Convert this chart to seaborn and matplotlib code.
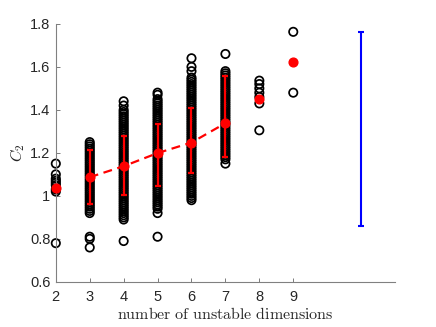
import numpy as np
import pandas as pd
import matplotlib
matplotlib.use("Agg")
import matplotlib.pyplot as plt
import seaborn as sns

## data: C2 values per number of unstable dimensions
c2_d2 = [0.78, 1.02, 1.03, 1.05, 1.06, 1.07, 1.08, 1.10, 1.15]
c2_d3 = [0.76, 0.80, 0.81, 0.92, 0.93, 0.94, 0.95, 0.96, 0.97, 0.98, 0.99,
         1.00, 1.01, 1.02, 1.03, 1.04, 1.05, 1.06, 1.07, 1.08, 1.09, 1.10,
         1.11, 1.12, 1.13, 1.14, 1.15, 1.16, 1.17, 1.18, 1.19, 1.20, 1.21,
         1.22, 1.23, 1.24, 1.25]
c2_d4 = [0.79, 0.89, 0.90, 0.91, 0.92, 0.93, 0.94, 0.95, 0.96, 0.97, 0.98,
         0.99, 1.00, 1.01, 1.02, 1.03, 1.04, 1.05, 1.06, 1.07, 1.08, 1.09,
         1.10, 1.11, 1.12, 1.13, 1.14, 1.15, 1.16, 1.17, 1.18, 1.19, 1.20,
         1.21, 1.22, 1.23, 1.24, 1.25, 1.26, 1.27, 1.28, 1.29, 1.30, 1.31,
         1.32, 1.33, 1.34, 1.35, 1.36, 1.37, 1.38, 1.39, 1.40, 1.42, 1.44]
c2_d5 = [0.81, 0.92, 0.94, 0.95, 0.96, 0.97, 0.98, 0.99, 1.00, 1.01, 1.02,
         1.03, 1.04, 1.05, 1.06, 1.07, 1.08, 1.09, 1.10, 1.11, 1.12, 1.13,
         1.14, 1.15, 1.16, 1.17, 1.18, 1.19, 1.20, 1.21, 1.22, 1.23, 1.24,
         1.25, 1.26, 1.27, 1.28, 1.29, 1.30, 1.31, 1.32, 1.33, 1.34, 1.35,
         1.36, 1.37, 1.38, 1.39, 1.40, 1.41, 1.42, 1.43, 1.44, 1.45, 1.47,
         1.48]
c2_d6 = [0.98, 0.99, 1.00, 1.01, 1.02, 1.03, 1.04, 1.05, 1.06, 1.07, 1.08,
         1.09, 1.10, 1.11, 1.12, 1.13, 1.14, 1.15, 1.16, 1.17, 1.18, 1.19,
         1.20, 1.21, 1.22, 1.23, 1.24, 1.25, 1.26, 1.27, 1.28, 1.29, 1.30,
         1.31, 1.32, 1.33, 1.34, 1.35, 1.36, 1.37, 1.38, 1.39, 1.40, 1.41,
         1.42, 1.43, 1.44, 1.45, 1.46, 1.47, 1.48, 1.49, 1.50, 1.51, 1.52,
         1.53, 1.54, 1.55, 1.58, 1.60, 1.64]
c2_d7 = [1.15, 1.17, 1.18, 1.19, 1.20, 1.21, 1.22, 1.23, 1.24, 1.25, 1.26,
         1.27, 1.28, 1.29, 1.30, 1.31, 1.32, 1.33, 1.34, 1.35, 1.36, 1.37,
         1.38, 1.39, 1.40, 1.41, 1.42, 1.43, 1.44, 1.45, 1.46, 1.47, 1.48,
         1.49, 1.50, 1.51, 1.52, 1.53, 1.54, 1.55, 1.56, 1.57, 1.58, 1.66]
c2_d8 = [1.305, 1.43, 1.46, 1.48, 1.50, 1.52, 1.536]
c2_d9 = [1.48, 1.763]

dims = [2, 3, 4, 5, 6, 7, 8, 9]
c2_all = [c2_d2, c2_d3, c2_d4, c2_d5, c2_d6, c2_d7, c2_d8, c2_d9]

# means (red dots) for every dimension
mean_c2 = [1.036, 1.087, 1.138, 1.199, 1.248, 1.338, 1.451, 1.623]

# error bars for dims 3..7 (lower / upper ends)
err_dims = [3, 4, 5, 6, 7]
err_mean = [1.087, 1.138, 1.199, 1.248, 1.338]
err_low = [0.963, 1.003, 1.047, 1.105, 1.180]
err_high = [1.215, 1.279, 1.335, 1.408, 1.558]

# blue reference bar
ref_x = [11]
ref_low = [0.859]
ref_high = [1.763]

## long-form table for seaborn
df = pd.DataFrame(
    {
        "dim": np.concatenate([[d] * len(v) for d, v in zip(dims, c2_all)]),
        "c2": np.concatenate(c2_all),
    }
)

sns.set_style("white")
plt.rcParams["mathtext.fontset"] = "cm"
plt.rcParams["font.family"] = ["Liberation Sans", "DejaVu Sans"]

fig = plt.figure(figsize=(4.36, 3.27), dpi=100)
ax = fig.add_axes([0.128, 0.138, 0.778, 0.789])

## scatter of all samples
sns.scatterplot(
    data=df, x="dim", y="c2", ax=ax,
    marker="o", s=36, facecolors="none", edgecolors="black",
    linewidths=1.25, zorder=2, legend=False, clip_on=False,
)

## red error bars and dashed mean line
low = np.array(err_mean) - np.array(err_low)
high = np.array(err_high) - np.array(err_mean)
ax.errorbar(err_dims, err_mean, yerr=[low, high], fmt="none",
            ecolor="red", elinewidth=1.6, capsize=2.5, capthick=1.6, zorder=3)
ax.plot(err_dims, err_mean, color="red", ls="--", lw=1.6, dashes=(4, 2.5), zorder=3)
ax.plot(dims, mean_c2, "o", color="red", ms=6.3, zorder=4, clip_on=False)

## blue reference bar
ref_mid = (np.array(ref_low) + np.array(ref_high)) / 2
ax.errorbar(ref_x, ref_mid,
            yerr=[ref_mid - np.array(ref_low), np.array(ref_high) - ref_mid],
            fmt="none", ecolor="blue", elinewidth=1.5, capsize=2.5, capthick=1.5)

## axes styling (MATLAB look)
ax.set_xlim(2, 12)
ax.set_ylim(0.6, 1.8)
ax.set_xticks(dims)
ax.set_xticklabels([str(d) for d in dims])
yt = [0.6, 0.8, 1.0, 1.2, 1.4, 1.6, 1.8]
ax.set_yticks(yt)
ax.set_yticklabels(["0.6", "0.8", "1", "1.2", "1.4", "1.6", "1.8"])
ax.tick_params(direction="in", length=3, width=0.6, color="0.4",
               labelsize=10.5, labelcolor="0.15", left=True, bottom=True)
ax.tick_params(axis="x", pad=6)
ax.tick_params(axis="y", pad=4)
for side in ["top", "right"]:
    ax.spines[side].set_visible(False)
for side in ["left", "bottom"]:
    ax.spines[side].set_color("0.5")
    ax.spines[side].set_linewidth(0.8)

ax.set_xlabel(r"$\mathrm{number\ of\ unstable\ dimensions}$", fontsize=11.5, labelpad=1)
ax.set_ylabel(r"$C_2$", fontsize=11.5, labelpad=2)

fig.savefig("out.png", dpi=100)
